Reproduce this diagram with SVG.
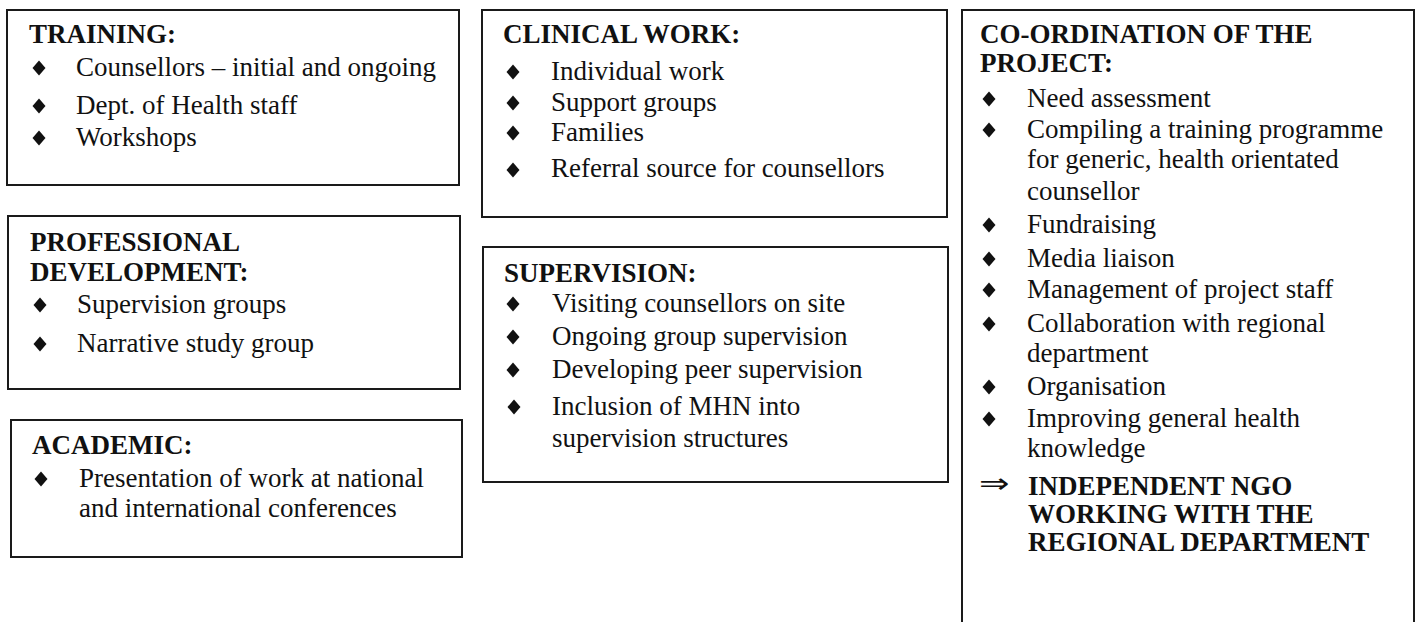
<svg xmlns="http://www.w3.org/2000/svg" xmlns:xlink="http://www.w3.org/1999/xlink" width="1419" height="622" viewBox="0 0 1419 622">
<style>
.box{fill:#fff;stroke:#1a1a1a;stroke-width:2}
.t{font-family:"Liberation Serif","Times New Roman",serif;font-size:27px;fill:#111}
.h{font-weight:bold}
.arr{font-family:"DejaVu Sans",sans-serif;font-size:28px;fill:#111}
</style>
<defs>
<path id="b" d="M0,-7.5 L6.5,0 L0,7.5 L-6.5,0 Z" fill="#111"/>
</defs>
<rect width="1419" height="622" fill="#fff"/>
<g id="connectors"></g>

<g id="training">
<rect class="box" x="7" y="10" width="452" height="175"/>
<text class="t h" x="29" y="43">TRAINING:</text>
<use xlink:href="#b" x="39" y="68"/>
<text class="t" x="76" y="76">Counsellors – initial and ongoing</text>
<use xlink:href="#b" x="39" y="106"/>
<text class="t" x="76" y="114">Dept. of Health staff</text>
<use xlink:href="#b" x="39" y="138"/>
<text class="t" x="76" y="146">Workshops</text>
</g>

<g id="professional">
<rect class="box" x="8" y="216" width="452" height="173"/>
<text class="t h" x="30" y="251">PROFESSIONAL</text>
<text class="t h" x="30" y="281">DEVELOPMENT:</text>
<use xlink:href="#b" x="40" y="305"/>
<text class="t" x="77" y="313">Supervision groups</text>
<use xlink:href="#b" x="40" y="344"/>
<text class="t" x="77" y="352">Narrative study group</text>
</g>

<g id="academic">
<rect class="box" x="11" y="420" width="451" height="137"/>
<text class="t h" x="32" y="454">ACADEMIC:</text>
<use xlink:href="#b" x="41" y="479"/>
<text class="t" x="79" y="487">Presentation of work at national</text>
<text class="t" x="79" y="517">and international conferences</text>
</g>

<g id="clinical">
<rect class="box" x="482" y="10" width="465" height="207"/>
<text class="t h" x="503" y="43">CLINICAL WORK:</text>
<use xlink:href="#b" x="513" y="72"/>
<text class="t" x="551" y="80">Individual work</text>
<use xlink:href="#b" x="513" y="103"/>
<text class="t" x="551" y="111">Support groups</text>
<use xlink:href="#b" x="513" y="133"/>
<text class="t" x="551" y="141">Families</text>
<use xlink:href="#b" x="513" y="170"/>
<text class="t" x="551" y="177">Referral source for counsellors</text>
</g>

<g id="supervision">
<rect class="box" x="483" y="247" width="465" height="235"/>
<text class="t h" x="504" y="282">SUPERVISION:</text>
<use xlink:href="#b" x="513" y="304"/>
<text class="t" x="552" y="312">Visiting counsellors on site</text>
<use xlink:href="#b" x="513" y="337"/>
<text class="t" x="552" y="345">Ongoing group supervision</text>
<use xlink:href="#b" x="513" y="370"/>
<text class="t" x="552" y="378">Developing peer supervision</text>
<use xlink:href="#b" x="514" y="407"/>
<text class="t" x="552" y="415">Inclusion of MHN into</text>
<text class="t" x="552" y="447">supervision structures</text>
</g>

<g id="coordination">
<rect class="box" x="962" y="10" width="452" height="640"/>
<text class="t h" x="980" y="43">CO-ORDINATION OF THE</text>
<text class="t h" x="980" y="72">PROJECT:</text>
<use xlink:href="#b" x="989" y="99"/>
<text class="t" x="1027" y="107">Need assessment</text>
<use xlink:href="#b" x="989" y="130"/>
<text class="t" x="1027" y="138">Compiling a training programme</text>
<text class="t" x="1027" y="168">for generic, health orientated</text>
<text class="t" x="1027" y="200">counsellor</text>
<use xlink:href="#b" x="989" y="225"/>
<text class="t" x="1027" y="233">Fundraising</text>
<use xlink:href="#b" x="989" y="259"/>
<text class="t" x="1027" y="267">Media liaison</text>
<use xlink:href="#b" x="989" y="290"/>
<text class="t" x="1027" y="298">Management of project staff</text>
<use xlink:href="#b" x="989" y="324"/>
<text class="t" x="1027" y="332">Collaboration with regional</text>
<text class="t" x="1027" y="362">department</text>
<use xlink:href="#b" x="989" y="387"/>
<text class="t" x="1027" y="395">Organisation</text>
<use xlink:href="#b" x="989" y="419"/>
<text class="t" x="1027" y="427">Improving general health</text>
<text class="t" x="1027" y="457">knowledge</text>
<text class="arr" x="0" y="0" transform="translate(979,493) scale(1.3,1)">⇒</text>
<text class="t h" x="1028" y="495">INDEPENDENT NGO</text>
<text class="t h" x="1028" y="523">WORKING WITH THE</text>
<text class="t h" x="1028" y="551">REGIONAL DEPARTMENT</text>
</g>
</svg>
